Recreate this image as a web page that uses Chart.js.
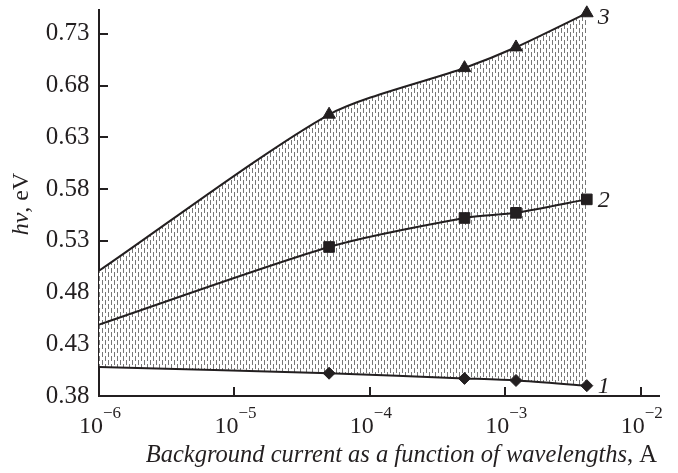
<!DOCTYPE html>
<html><head><meta charset="utf-8">
<script src="https://cdn.jsdelivr.net/npm/chart.js@4/dist/chart.umd.min.js"></script>
<style>html,body{margin:0;padding:0;background:#fff;overflow:hidden}</style>
</head><body>
<canvas id="c" width="678" height="473"></canvas>
<script>
// ---- data ----
const currents = [1e-6, 5e-5, 5e-4, 1.2e-3, 4e-3];
const curve1 = [0.408, 0.402, 0.397, 0.395, 0.390];
const curve2 = [0.449, 0.524, 0.552, 0.557, 0.570];
const curve3 = [0.501, 0.652, 0.697, 0.717, 0.750];
const curveNames = ['1', '2', '3'];
const yTickValues = [0.38, 0.43, 0.48, 0.53, 0.58, 0.63, 0.68, 0.73];
const xTickValues = [1e-6, 1e-5, 1e-4, 1e-3, 1e-2];
const xTickExponents = ['\u22126', '\u22125', '\u22124', '\u22123', '\u22122'];
const xTitleItalic = 'Background current as a function of wavelengths';
const xTitleRest = ', A';
const yTitleItalic = 'h\u03BD';
const yTitleRest = ', eV';

const INK = '#231f20';
const SERIF = '"Liberation Serif", "Times New Roman", serif';

function makePattern() {
  const p = document.createElement('canvas');
  p.width = 6; p.height = 8;
  const g = p.getContext('2d');
  g.fillStyle = '#fff'; g.fillRect(0, 0, 6, 8);
  g.fillStyle = '#777777';
  g.fillRect(0, 0, 1, 5);
  g.fillRect(3, 4, 1, 4);
  g.fillRect(3, 0, 1, 1);
  return g.createPattern(p, 'repeat');
}
const pattern = makePattern();

function pts(vals) { return currents.map((x, i) => ({x: x, y: vals[i]})); }
function radii(r) { return currents.map((x, i) => i === 0 ? 0 : r); }

const overlay = {
  id: 'overlay',
  afterDraw(chart) {
    const ctx = chart.ctx;
    const xs = chart.scales.x;
    ctx.save();
    ctx.fillStyle = INK;
    ctx.textBaseline = 'alphabetic';
    // x tick labels with superscripts
    xTickValues.forEach((v, i) => {
      const px = xs.getPixelForValue(v);
      ctx.font = '24px ' + SERIF;
      const wb = ctx.measureText('10').width;
      ctx.font = '17px ' + SERIF;
      const we = ctx.measureText(xTickExponents[i]).width;
      const x0 = px - (wb + we) / 2 + 1;
      ctx.font = '24px ' + SERIF;
      ctx.textAlign = 'left';
      ctx.fillText('10', x0, 433);
      ctx.font = '17px ' + SERIF;
      ctx.fillText(xTickExponents[i], x0 + wb, 418);
    });
    // x title
    const tf = '24.5px ';
    ctx.font = 'italic ' + tf + SERIF;
    const w1 = ctx.measureText(xTitleItalic).width;
    ctx.font = tf + SERIF;
    const w2 = ctx.measureText(xTitleRest).width;
    const right = 657;
    ctx.font = 'italic ' + tf + SERIF;
    ctx.fillText(xTitleItalic, right - w1 - w2, 462);
    ctx.font = tf + SERIF;
    ctx.fillText(xTitleRest, right - w2, 462);
    // y title
    ctx.save();
    ctx.translate(28, 204);
    ctx.rotate(-Math.PI / 2);
    ctx.font = 'italic 24px ' + SERIF;
    const a1 = ctx.measureText(yTitleItalic).width;
    ctx.font = '24px ' + SERIF;
    const a2 = ctx.measureText(yTitleRest).width;
    const s = -(a1 + a2) / 2;
    ctx.font = 'italic 24px ' + SERIF;
    ctx.fillText(yTitleItalic, s, 0);
    ctx.font = '24px ' + SERIF;
    ctx.fillText(yTitleRest, s + a1, 0);
    ctx.restore();
    // curve labels
    ctx.font = 'italic 24px ' + SERIF;
    ctx.textBaseline = 'middle';
    ctx.textAlign = 'left';
    [0, 1, 2].forEach(d => {
      const meta = chart.getDatasetMeta(d);
      const last = meta.data[meta.data.length - 1];
      ctx.fillText(curveNames[d], last.x + 11, last.y + (d === 2 ? 5 : 1));
    });
    ctx.restore();
  }
};

const ds = (vals, style, r, extra) => Object.assign({
  data: pts(vals),
  borderColor: INK,
  borderWidth: 2,
  backgroundColor: INK,
  pointStyle: style,
  pointRadius: radii(r),
  pointHoverRadius: radii(r),
  pointBackgroundColor: INK,
  pointBorderColor: INK,
  pointBorderWidth: 1,
  tension: 0.25,
  clip: false,
  fill: false
}, extra || {});

new Chart(document.getElementById('c'), {
  type: 'line',
  data: {
    datasets: [
      ds(curve1, 'rectRot', 6),
      ds(curve2, 'rect', 7.5),
      ds(curve3, 'triangle', 7.3, {fill: {target: 0, above: pattern, below: pattern}})
    ]
  },
  options: {
    responsive: false,
    animation: false,
    devicePixelRatio: 1,
    layout: {padding: {top: 10, right: 19, left: 0, bottom: 0}},
    plugins: {legend: {display: false}, tooltip: {enabled: false}},
    scales: {
      x: {
        type: 'logarithmic',
        position: 'bottom',
        min: 1e-6,
        max: 0.01365,
        afterBuildTicks: s => { s.ticks = xTickValues.map(v => ({value: v})); },
        afterFit: s => { s.height = 77; s.paddingLeft = 0; s.paddingRight = 0; s.paddingTop = 0; s.paddingBottom = 0; },
        ticks: {display: false},
        border: {display: true, color: INK, width: 2},
        grid: {drawOnChartArea: false, drawTicks: true, tickLength: -9, color: INK, lineWidth: 2}
      },
      y: {
        type: 'linear',
        position: 'left',
        min: 0.38,
        max: 0.753,
        afterBuildTicks: s => { s.ticks = yTickValues.map(v => ({value: v})); },
        afterFit: s => { s.width = 99; s.paddingTop = 0; s.paddingBottom = 0; s.paddingLeft = 0; s.paddingRight = 0; },
        ticks: {
          padding: 18.5,
          color: INK,
          font: {family: SERIF, size: 25},
          callback: v => v.toFixed(2)
        },
        border: {display: true, color: INK, width: 2},
        grid: {drawOnChartArea: false, drawTicks: true, tickLength: -9, color: INK, lineWidth: 2}
      }
    }
  },
  plugins: [overlay]
});
</script>
</body></html>
